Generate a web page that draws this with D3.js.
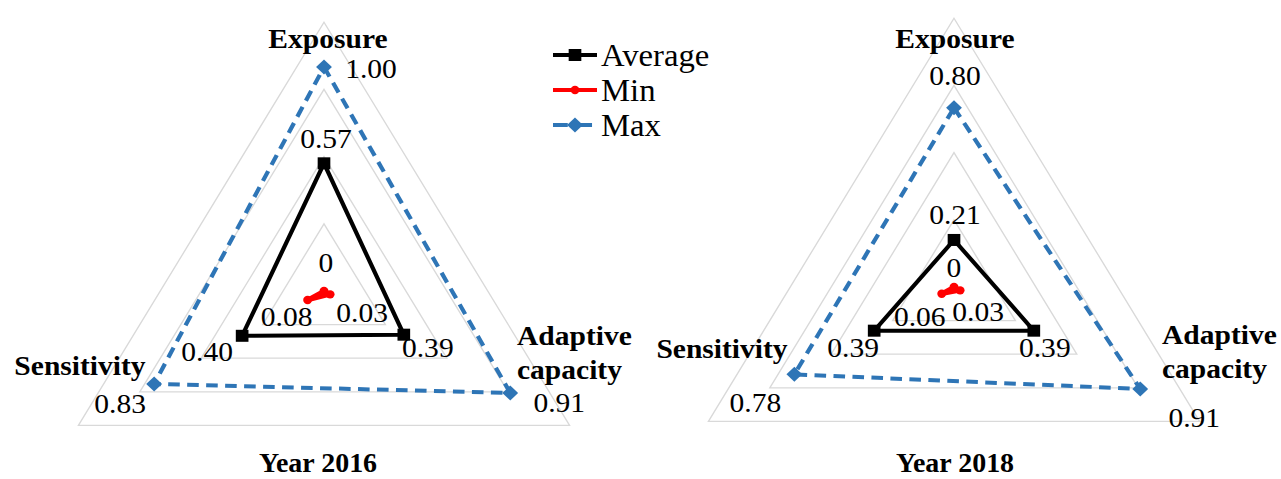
<!DOCTYPE html>
<html>
<head>
<meta charset="utf-8">
<script src="https://cdn.jsdelivr.net/npm/d3@7"></script>
<style>
  body { margin: 0; background: #fff; }
  svg { display: block; }
</style>
</head>
<body>
<svg id="chart" width="1281" height="479"></svg>
<script>
// categories go clockwise from the top, as in the original radar
const categories = ['Exposure', 'Adaptive capacity', 'Sensitivity']
const seriesNames = ['Average', 'Min', 'Max']
const years = ['Year 2016', 'Year 2018']

const average2016 = [0.57, 0.39, 0.40]
const min2016 = [0, 0.03, 0.08]
const max2016 = [1.00, 0.91, 0.83]

const average2018 = [0.21, 0.39, 0.39]
const min2018 = [0, 0.03, 0.06]
const max2018 = [0.80, 0.91, 0.78]

const gridTicks = [0.3, 0.6, 0.9, 1.2]

const FONT = "'Liberation Serif', 'Times New Roman', serif"

// the scanned figure is a little wider than tall, so everything is stretched in x
const K = 1.055
const sx = v => v / K

const colors = { Average: '#000000', Min: '#ff0000', Max: '#2e75b6' }
const angles = categories.map((c, i) => (-90 + i * 120) * Math.PI / 180)
const r = d3.scaleLinear().domain([0, 1.2]).range([0, 268.8])

// label offsets from the data point, in picture pixels [dx, dy(baseline)]
const charts = [
  {
    title: years[0],
    cx: 324,
    cy: 291,
    values: { Average: average2016, Min: min2016, Max: max2016 },
    labelOffsets: {
      Max: [[47, 11], [49, 19], [-34, 29]],
      Average: [[2, -15], [24, 22], [-35, 25]],
      Min: [[2, -19], [32, 28], [-21, 26]]
    },
    catLabels: [
      { x: 4, y: -243, anchor: 'middle' },
      { x: 193, y: 54, anchor: 'start' },
      { x: -244, y: 84, anchor: 'middle' }
    ],
    titleX: -6,
    titleY: 181
  },
  {
    title: years[1],
    cx: 954,
    cy: 287,
    values: { Average: average2018, Min: min2018, Max: max2018 },
    labelOffsets: {
      Max: [[1, -23], [54, 38], [-39, 38]],
      Average: [[1, -16], [11, 26], [-21, 26]],
      Min: [[0, -10], [18, 31], [-22, 32]]
    },
    catLabels: [
      { x: 1, y: -239, anchor: 'middle' },
      { x: 208, y: 57, anchor: 'start' },
      { x: -232, y: 71, anchor: 'middle' }
    ],
    titleX: 1,
    titleY: 185
  }
]

const svg = d3.select('#chart')
const root = svg.append('g').attr('transform', `scale(${K},1)`)

const fmt = v => (v === 0 ? '0' : d3.format('.2f')(v))

function point (chart, v, i) {
  return [sx(chart.cx) + r(v) * Math.cos(angles[i]), chart.cy + r(v) * Math.sin(angles[i])]
}

const closedLine = d3.line().curve(d3.curveLinearClosed)

function drawMarker (sel, name, x, y) {
  if (name === 'Average') {
    sel.append('rect')
      .attr('x', x - 6).attr('y', y - 6).attr('width', 12).attr('height', 12)
      .attr('fill', colors.Average)
  } else if (name === 'Min') {
    sel.append('circle').attr('cx', x).attr('cy', y).attr('r', 4.2).attr('fill', colors.Min)
  } else {
    sel.append('path')
      .attr('d', `M${x},${y - 7.5}L${x + 7.5},${y}L${x},${y + 7.5}L${x - 7.5},${y}Z`)
      .attr('fill', colors.Max)
  }
}

charts.forEach(chart => {
  const g = root.append('g')

  // grid triangles
  g.selectAll('.grid')
    .data(gridTicks)
    .join('path')
    .attr('class', 'grid')
    .attr('d', t => closedLine(categories.map((c, i) => point(chart, t, i))))
    .attr('fill', 'none')
    .attr('stroke', '#d9d9d9')
    .attr('stroke-width', 1.3)

  // series polygons
  seriesNames.forEach(name => {
    const pts = chart.values[name].map((v, i) => point(chart, v, i))
    g.append('path')
      .attr('d', closedLine(pts))
      .attr('fill', 'none')
      .attr('stroke', colors[name])
      .attr('stroke-width', name === 'Min' ? 4.5 : 4)
      .attr('stroke-dasharray', name === 'Max' ? '11,7' : null)
      .attr('stroke-linejoin', 'round')
    pts.forEach(p => drawMarker(g, name, p[0], p[1]))
  })

  // data labels
  seriesNames.forEach(name => {
    chart.values[name].forEach((v, i) => {
      const p = point(chart, v, i)
      const off = chart.labelOffsets[name][i]
      g.append('text')
        .attr('x', p[0] + sx(off[0]))
        .attr('y', p[1] + off[1])
        .attr('text-anchor', 'middle')
        .attr('font-size', 28)
        .attr('fill', '#000')
        .style('font-family', FONT)
        .text(fmt(v))
    })
  })

  // category labels
  categories.forEach((c, i) => {
    const pos = chart.catLabels[i]
    const t = g.append('text')
      .attr('x', sx(chart.cx + pos.x))
      .attr('y', chart.cy + pos.y)
      .attr('text-anchor', pos.anchor)
      .attr('font-size', 28)
      .attr('font-weight', 'bold')
      .attr('fill', '#000')
      .style('font-family', FONT)
    c.split(' ').forEach((word, j) => {
      t.append('tspan')
        .attr('x', sx(chart.cx + pos.x))
        .attr('dy', j === 0 ? 0 : 34)
        .text(word)
    })
  })

  g.append('text')
    .attr('x', sx(chart.cx + chart.titleX))
    .attr('y', chart.cy + chart.titleY)
    .attr('text-anchor', 'middle')
    .attr('font-size', 26.5)
    .attr('font-weight', 'bold')
    .style('font-family', FONT)
    .text(chart.title)
})

// legend
const legend = root.append('g')
seriesNames.forEach((name, i) => {
  const y = 55 + i * 35
  legend.append('line')
    .attr('x1', sx(553)).attr('x2', sx(597))
    .attr('y1', y).attr('y2', y)
    .attr('stroke', colors[name])
    .attr('stroke-width', 4)
    .attr('stroke-dasharray', name === 'Max' ? '14,9' : null)
  drawMarker(legend, name, sx(575), y)
  legend.append('text')
    .attr('x', sx(601))
    .attr('y', y + 11)
    .attr('font-size', 31)
    .style('font-family', FONT)
    .text(name)
})
</script>
</body>
</html>
